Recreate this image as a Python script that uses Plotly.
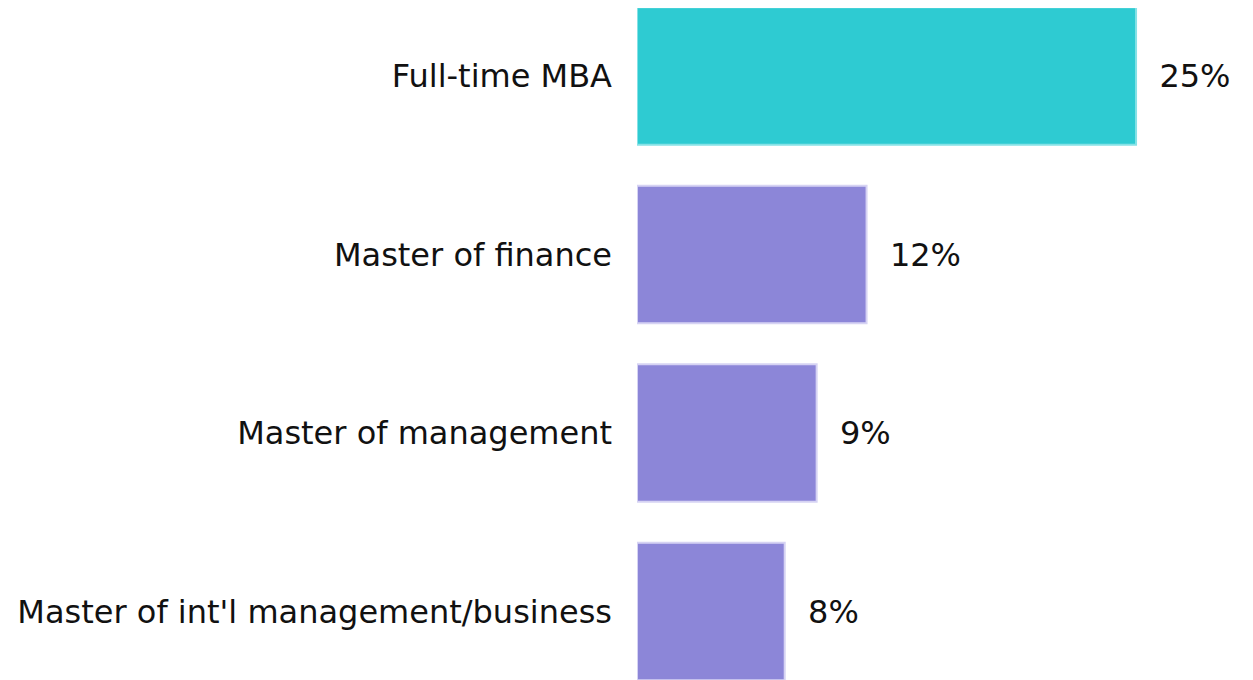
import plotly.graph_objects as go

programs = [
    "Full-time MBA",
    "Master of finance",
    "Master of management",
    "Master of int'l management/business",
]
shares = [25.0, 11.5, 9.0, 7.4]
share_labels = ["25%", "12%", "9%", "8%"]
bar_colors = ["#2ECBD2", "#8C86D8", "#8C86D8", "#8C86D8"]
edge_colors = ["#86E2E6", "#D6D3F3", "#D6D3F3", "#D6D3F3"]

fig = go.Figure()

fig.add_trace(
    go.Bar(
        x=shares,
        y=programs,
        orientation='h',
        width=0.77,
        marker=dict(color=bar_colors, line=dict(color=edge_colors, width=2)),
        text=share_labels,
        texttemplate="  %{text}",
        textposition='outside',
        textfont=dict(family="DejaVu Sans", size=32, color="#111111"),
        cliponaxis=False,
        hoverinfo='skip',
    )
)

# the page adds an 8px body margin, so the plot is laid out 8px up and left
fig.update_layout(
    width=1253,
    height=680,
    margin=dict(l=629, r=0, t=0, b=0),
    plot_bgcolor="white",
    paper_bgcolor="white",
    showlegend=False,
    font=dict(family="DejaVu Sans", size=32, color="#111111"),
    xaxis=dict(range=[0, 31.26], visible=False, fixedrange=True),
    yaxis=dict(
        categoryorder='array',
        categoryarray=programs,
        range=[3.428, -0.381],
        showgrid=False,
        showline=False,
        zeroline=False,
        ticks="",
        ticklabelstandoff=24,
        fixedrange=True,
    ),
)

fig.write_html("out.html")
